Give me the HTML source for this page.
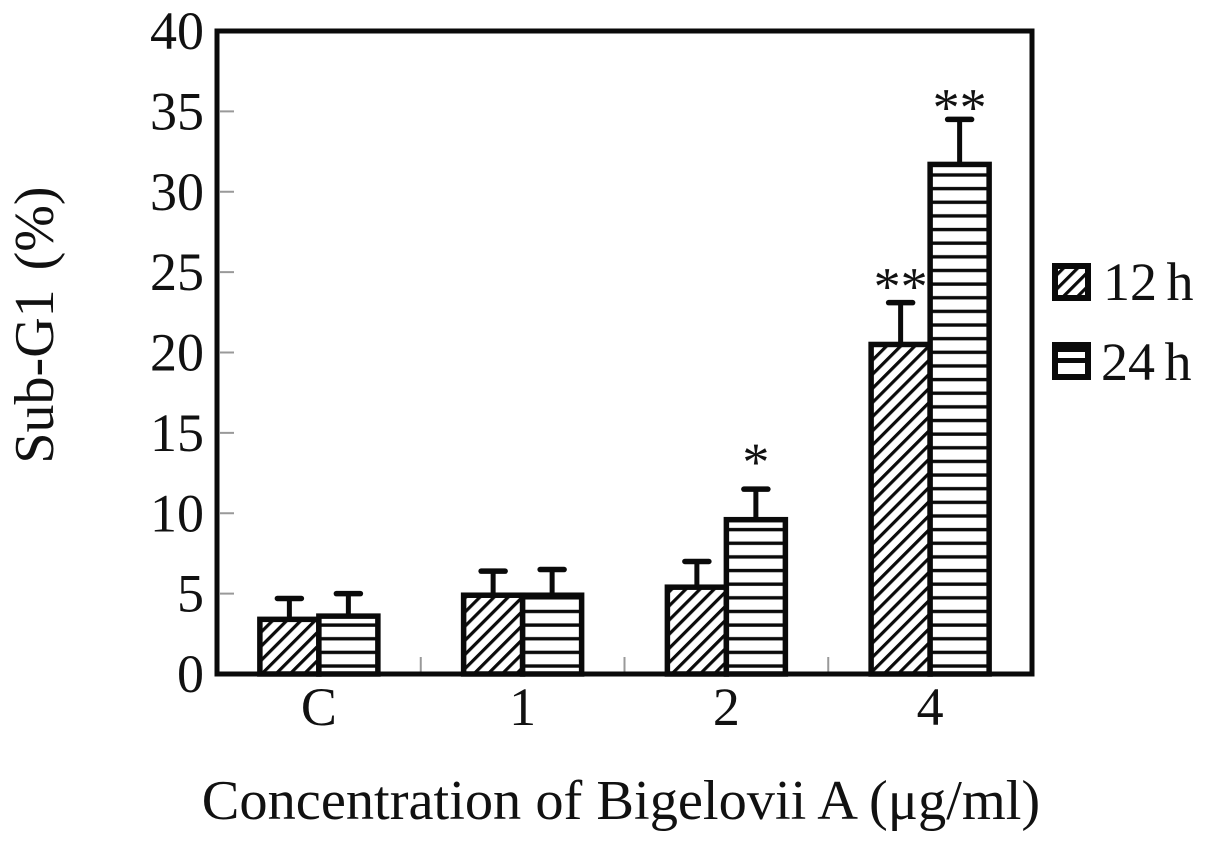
<!DOCTYPE html>
<html>
<head>
<meta charset="utf-8">
<style>
html,body{margin:0;padding:0;background:#fff;width:1205px;height:842px;overflow:hidden}
svg{display:block}
text{font-family:"Liberation Serif",serif;fill:#111}
</style>
</head>
<body>
<svg id="chart" width="1205" height="842" viewBox="0 0 1205 842" xmlns="http://www.w3.org/2000/svg">
<defs>
<pattern id="hatch" patternUnits="userSpaceOnUse" width="10" height="10" patternTransform="rotate(-45)">
<rect width="10" height="10" fill="#fff"/>
<rect x="0" y="0" width="10" height="3.2" fill="#0a0a0a"/>
</pattern>
<pattern id="stripes" patternUnits="userSpaceOnUse" x="0" y="0" width="10" height="13.64">
<rect width="10" height="13.64" fill="#fff"/>
<rect x="0" y="9.6" width="10" height="3.4" fill="#0a0a0a"/>
</pattern>
</defs>
<g id="plot"></g>
<text transform="translate(53,325) rotate(-90)" text-anchor="middle" font-size="56" word-spacing="5">Sub-G1 (%)</text>
<text x="621" y="819" text-anchor="middle" font-size="56.4">Concentration of Bigelovii A (μg/ml)</text>
<g>
<rect x="1055" y="266" width="33" height="32" fill="url(#hatch)" stroke="#0a0a0a" stroke-width="6"/>
<text x="1103" y="300" font-size="54" word-spacing="-4">12 h</text>
<rect x="1055" y="345" width="33" height="32" fill="#fff" stroke="#0a0a0a" stroke-width="6"/>
<rect x="1052" y="342" width="39" height="10" fill="#0a0a0a"/>
<rect x="1055" y="358" width="33" height="5" fill="#0a0a0a"/>
<text x="1101" y="380" font-size="54" word-spacing="-4">24 h</text>
</g>
</svg>
<script>
var categories = ['C', '1', '2', '4'];
var series12h = [3.4, 4.9, 5.4, 20.5];
var series24h = [3.6, 4.9, 9.6, 31.7];
var errorTop12h = [4.7, 6.4, 7.0, 23.1];
var errorTop24h = [5.0, 6.5, 11.5, 34.5];
var marks12h = ['', '', '', '**'];
var marks24h = ['', '', '*', '**'];
var yTickValues = [0, 5, 10, 15, 20, 25, 30, 35, 40];

var NS = 'http://www.w3.org/2000/svg';
var plot = document.getElementById('plot');
var left = 217, right = 1032, y0 = 674, y40 = 31;
var yMax = 40;
function yScale(v) { return y0 - (v / yMax) * (y0 - y40); }
function bandStart(i) { return left + (right - left) * i / categories.length; }
function bandCenter(i) { return left + (right - left) * (i + 0.5) / categories.length; }
var barW = 59;

function make(tag, attrs, parent) {
  var el = document.createElementNS(NS, tag);
  for (var k in attrs) el.setAttribute(k, attrs[k]);
  (parent || plot).appendChild(el);
  return el;
}

var frame = make('rect', {x: left, y: y40, width: right - left, height: y0 - y40, fill: '#fff', stroke: '#0a0a0a', 'stroke-width': 5});



yTickValues.forEach(function (v) {
  var y = yScale(v);
  if (v > 0 && v < yMax) {
    var t = make('line', {x1: left + 3, x2: left + 17, y1: y, y2: y, stroke: '#999', 'stroke-width': 2});
    
    
  }
  var l = make('text', {x: 204, y: y + 18, 'text-anchor': 'end', 'font-size': 54});
  l.textContent = v;
  
  
});

categories.forEach(function (c, i) {
  if (i > 0) {
    var t = make('line', {x1: bandStart(i), x2: bandStart(i), y1: y0 - 17, y2: y0 - 2, stroke: '#999', 'stroke-width': 2});
    
    
  }
  var l = make('text', {x: bandCenter(i), y: 725, 'text-anchor': 'middle', 'font-size': 54});
  l.textContent = c;
  
  
});

function drawBar(i, x, value, errTop, fill, mark, key) {
  var cx = x + barW / 2;
  var top = yScale(value);
  var et = yScale(errTop);
  var stem = make('line', {x1: cx, x2: cx, y1: top, y2: et, stroke: '#0a0a0a', 'stroke-width': 5});
  
  
  var cap = make('line', {x1: cx - 12, x2: cx + 12, y1: et, y2: et, stroke: '#0a0a0a', 'stroke-width': 5.5, 'stroke-linecap': 'round'});
  
  
  var bar = make('rect', {x: x, y: top, width: barW, height: y0 - top, fill: fill, stroke: '#0a0a0a', 'stroke-width': 5.5});
  
  
  if (mark) {
    var gap = mark.length === 1 ? 33 : (key === '12h' ? 22 : 18);
    var m = make('text', {x: cx, y: et - gap + 24, 'text-anchor': 'middle', 'font-size': 54});
    m.textContent = mark;
    
    
  }
}

categories.forEach(function (c, i) {
  var cx = bandCenter(i);
  drawBar(i, cx - barW, series12h[i], errorTop12h[i], 'url(#hatch)', marks12h[i], '12h');
  drawBar(i, cx, series24h[i], errorTop24h[i], 'url(#stripes)', marks24h[i], '24h');
});

var baseline = make('line', {x1: left, x2: right, y1: y0, y2: y0, stroke: '#0a0a0a', 'stroke-width': 5});


</script>
</body>
</html>
